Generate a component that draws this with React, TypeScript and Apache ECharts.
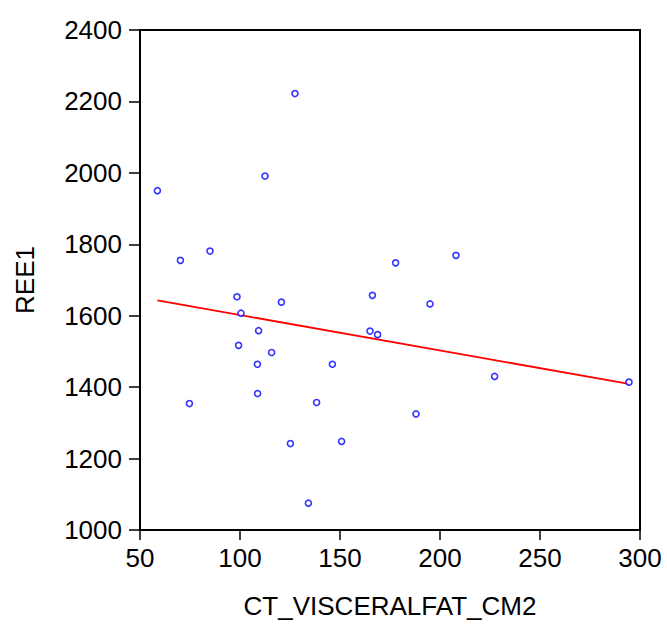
import React, { useEffect, useRef } from "react";
import * as echarts from "echarts";

const visceralFat: number[] = [
  127.5, 112.5, 58.7, 70.2, 85, 208, 177.8, 98.5, 120.7, 166.2, 100.5, 109.3, 165, 168.8,
  99.3, 115.8, 108.7, 146.2, 108.8, 74.7, 138.3, 125.2, 150.8, 134.2, 195, 227.3, 188, 294.5,
];
const ree1: number[] = [
  2222, 1991, 1950, 1755, 1781, 1769, 1748, 1653, 1638, 1657, 1607, 1558, 1557, 1547,
  1517, 1497, 1464, 1464, 1382, 1354, 1357, 1242, 1248, 1075, 1633, 1430, 1325, 1414,
];
const fitX: number[] = [58.7, 294.5];
const fitY: number[] = [1643, 1409];

const xTicks = { min: 50, max: 300, interval: 50 };
const yTicks = { min: 1000, max: 2400, interval: 200 };

const FONT = "'Liberation Sans', Arial, sans-serif";

export default function App() {
  const ref = useRef<HTMLDivElement>(null);
  useEffect(() => {
    if (!ref.current) return;
    const chart = echarts.init(ref.current, null, { renderer: "svg" });
    const points = visceralFat.map((x, i) => [x, ree1[i]]);
    const line = fitX.map((x, i) => [x, fitY[i]]);
    chart.setOption({
      animation: false,
      backgroundColor: "#fff",
      grid: {
        left: 140,
        top: 30,
        right: 27,
        bottom: 92,
        show: true,
        borderColor: "#000",
        borderWidth: 2,
        backgroundColor: "transparent",
      },
      xAxis: {
        type: "value",
        min: xTicks.min,
        max: xTicks.max,
        interval: xTicks.interval,
        name: "CT_VISCERALFAT_CM2",
        nameLocation: "middle",
        nameGap: 63,
        nameTextStyle: { fontFamily: FONT, fontSize: 26, color: "#000" },
        axisLine: { show: true, lineStyle: { color: "#000", width: 2 } },
        axisTick: { show: true, inside: false, length: 10, lineStyle: { color: "#000", width: 1.5 } },
        axisLabel: {
          fontFamily: FONT,
          fontSize: 26,
          color: "#000",
          margin: 15,
          formatter: (v: number) => String(v),
        },
        splitLine: { show: false },
      },
      yAxis: {
        type: "value",
        min: yTicks.min,
        max: yTicks.max,
        interval: yTicks.interval,
        name: "REE1",
        nameLocation: "middle",
        nameGap: 102,
        nameTextStyle: { fontFamily: FONT, fontSize: 26, color: "#000" },
        axisLine: { show: true, lineStyle: { color: "#000", width: 2 } },
        axisTick: { show: true, inside: false, length: 11, lineStyle: { color: "#000", width: 1.5 } },
        axisLabel: {
          fontFamily: FONT,
          fontSize: 26,
          color: "#000",
          margin: 18,
          padding: [0, 0, 8, 0],
          formatter: (v: number) => String(v),
        },
        splitLine: { show: false },
      },
      series: [
        {
          type: "line",
          data: line,
          symbol: "none",
          lineStyle: { color: "#ff0000", width: 1.8 },
          z: 2,
        },
        {
          type: "scatter",
          data: points,
          symbol: "circle",
          symbolSize: 6,
          itemStyle: { color: "#fff", borderColor: "#0000ff", borderWidth: 1.6 },
          z: 3,
        },
      ],
    });
    return () => chart.dispose();
  }, []);
  return <div ref={ref} style={{ width: 667, height: 624, position: "absolute", left: 0, top: 0 }} />;
}
